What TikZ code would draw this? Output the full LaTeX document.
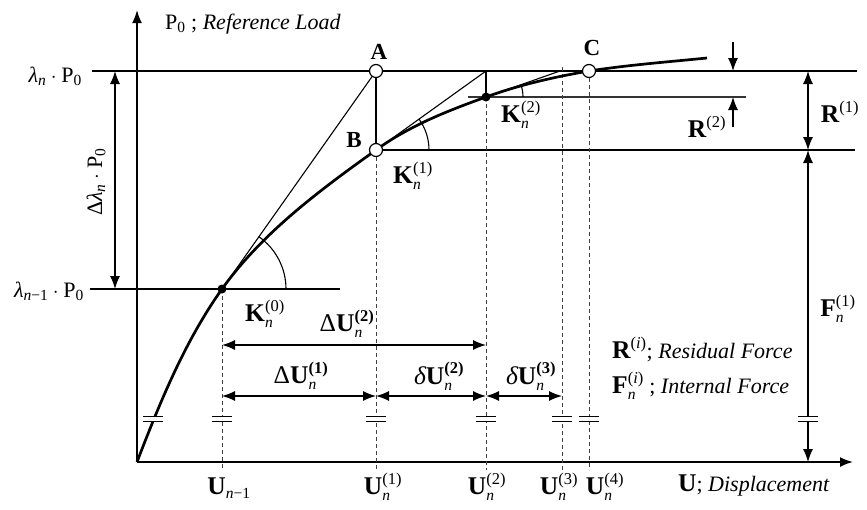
\documentclass[tikz,border=0pt]{standalone}
\usepackage{fontspec}
\setmainfont{Liberation Serif}
\usepackage{amsmath}
\usetikzlibrary{arrows.meta,calc}
\newcommand{\supt}[1]{\text{\fontsize{16.5}{16.5}\selectfont #1}}
\newcommand{\subt}[1]{\text{\fontsize{15.5}{15.5}\selectfont #1}}
\newcommand{\vsym}[3]{$\text{\bfseries #1}^{\supt{#3}}_{\subt{\itshape #2}}$}
\newcommand{\vsup}[2]{$\text{\bfseries #1}^{\supt{#2}}$}
\newcommand{\brkmark}[2]{%
  \fill[white] ({#1-10},{#2-2.6}) rectangle ({#1+10},{#2+2.6});
  \draw[line width=1.1pt] ({#1-10},{#2-2.6}) -- ({#1+10},{#2-2.6}) ({#1-10},{#2+2.6}) -- ({#1+10},{#2+2.6});}
\begin{document}
\begin{tikzpicture}[x=1pt,y=-1pt,
  axis/.style={line width=1.8pt,-{Latex[length=13pt,width=10pt]}},
  thinln/.style={line width=1.1pt},
  dline/.style={line width=0.9pt, dash pattern=on 4pt off 3pt, black!75},
  crv/.style={line width=2.7pt},
  dim/.style={line width=1.3pt, {Latex[length=13pt,width=10pt]}-{Latex[length=13pt,width=10pt]}},
  sarr/.style={line width=1.3pt, -{Latex[length=13pt,width=10pt]}},
  opn/.style={circle, draw, line width=1.2pt, fill=white, inner sep=0, minimum size=13pt},
  dotp/.style={circle, fill, inner sep=0, minimum size=9pt},
  txt/.style={font=\fontsize{22}{25}\selectfont, inner sep=0},
  sym/.style={font=\fontsize{25.5}{28}\selectfont, inner sep=0},
  abc/.style={font=\fontsize{23}{26}\selectfont\bfseries, inner sep=0}
]
\useasboundingbox (0,0) rectangle (867,509);
% key coordinates
\coordinate (O) at (137,462);
\coordinate (Ytop) at (137,10);
\coordinate (Xend) at (853,462);
\coordinate (TL) at (92,71);   \coordinate (TR) at (857,71);
\coordinate (LL) at (90,289);  \coordinate (LR) at (340,289);
\coordinate (BR) at (855,150);
\coordinate (K2L) at (468,97); \coordinate (K2R) at (746,97);
\coordinate (P0) at (222,289);
\coordinate (Ac) at (376,71);
\coordinate (Bc) at (376,150);
\coordinate (P2) at (486,97);
\coordinate (T2) at (486,71);
\coordinate (T3) at (560,71);
\coordinate (Cc) at (589,71);
\coordinate (Ce) at (707,58);
\coordinate (D0) at (222,470);
\coordinate (D1) at (376,470);
\coordinate (D2) at (486,470);
\coordinate (D3t) at (562,67); \coordinate (D3) at (562,470);
\coordinate (D4) at (589,470);
% axes
\draw[axis] (O) -- (Ytop);
\draw[axis] (O) -- (Xend);
% horizontal lines
\draw[thinln] (TL) -- (TR);
\draw[thinln] (LL) -- (LR);
\draw[thinln] (Bc) -- (BR);
\draw[thinln, black!80] (K2L) -- (K2R);
% dashed verticals
\draw[dline] (P0) -- (D0);
\draw[dline] (Bc) -- (D1);
\draw[dline] (P2) -- (D2);
\draw[dline] (D3t) -- (D3);
\draw[dline] (Cc) -- (D4);
% tangents
\draw[thinln] (P0) -- (Ac);
\draw[thinln] (Bc) -- (T2);
\draw[thinln] (P2) -- (T3);
\draw[line width=1.5pt] (Ac) -- (Bc);
\draw[line width=1.5pt] (T2) -- (P2);
% angle arcs
\draw[thinln] ($(P0)+(64,0)$) arc[start angle=0, end angle=-54.8, radius=64];
\draw[thinln] ($(Bc)+(53,0)$) arc[start angle=0, end angle=-35.7, radius=53];
\draw[thinln] ($(P2)+(37,0)$) arc[start angle=0, end angle=-19.4, radius=37];
% curve
\draw[crv] (O) .. controls (160,402) and (185,341) .. (P0)
  .. controls (262,233) and (320,190) .. (Bc)
  .. controls (409,126) and (447,111) .. (P2)
  .. controls (519,85) and (554,77) .. (Cc)
  .. controls (628,65) and (667,62) .. (Ce);
% dimension arrows
\coordinate (DLt) at (115,71); \coordinate (DLb) at (115,289);
\draw[dim] (DLt) -- (DLb);
\coordinate (U2a) at (222,345); \coordinate (U2b) at (486,345);
\draw[dim] (U2a) -- (U2b);
\coordinate (Ra) at (222,396); \coordinate (Rb) at (376,396); \coordinate (Rc) at (486,396); \coordinate (Rd) at (562,396);
\draw[dim] (Ra) -- (Rb);
\draw[dim] (Rb) -- (Rc);
\draw[dim] (Rc) -- (Rd);
\coordinate (Fx1) at (808,71); \coordinate (Fx2) at (808,150); \coordinate (Fx3) at (808,462);
\draw[dim] (Fx1) -- (Fx2);
\draw[dim] (Fx2) -- (Fx3);
\coordinate (R2a) at (733,42); \coordinate (R2b) at (733,71);
\coordinate (R2c) at (733,127); \coordinate (R2d) at (733,97);
\draw[sarr] (R2a) -- (R2b);
\draw[sarr] (R2c) -- (R2d);
% break marks
\brkmark{153}{419}
\brkmark{222}{419}
\brkmark{376}{419}
\brkmark{486}{419}
\brkmark{562}{419}
\brkmark{589}{419}
\brkmark{808}{419}
% points
\node[opn] (A) at (Ac) {};
\node[opn] (B) at (Bc) {};
\node[opn] (C) at (Cc) {};
\node[dotp] (p0) at (P0) {};
\node[dotp] (p2) at (P2) {};
% labels
\node[abc] (lA) at (379,52) {A};
\node[abc] (lB) at (354,140) {B};
\node[abc] (lC) at (592,48) {C};
\node[txt, anchor=west] (lP) at (165,24) {$\text{P}_{\subt{0}}$ ; \textit{Reference Load}};
\node[txt, anchor=east] (lln) at (82,76) {$\text{\itshape λ}_{\subt{\itshape n}}\cdot\text{P}_{\subt{0}}$};
\node[txt, anchor=east] (lln1) at (84,291) {$\text{\itshape λ}_{\subt{\itshape n\upshape −1}}\cdot\text{P}_{\subt{0}}$};
\node[txt, rotate=90] (ldl) at (96,182) {$\text{Δ\itshape λ}_{\subt{\itshape n}}\cdot\text{P}_{\subt{0}}$};
\node[sym] (lK1) at (413,176) {\vsym{K}{n}{(1)}};
\node[sym] (lK2) at (521,115) {\vsym{K}{n}{(2)}};
\node[sym] (lK0) at (265,314) {\vsym{K}{n}{(0)}};
\node[sym] (lDU2) at (347,324) {$\text{Δ\bfseries U}^{\supt{\bfseries(2)}}_{\subt{\itshape n}}$};
\node[sym] (lDU1) at (301,376) {$\text{Δ\bfseries U}^{\supt{\bfseries(1)}}_{\subt{\itshape n}}$};
\node[sym] (ldU2) at (439,376) {$\text{\itshape δ\upshape\bfseries U}^{\supt{\bfseries(2)}}_{\subt{\itshape n}}$};
\node[sym] (ldU3) at (531,376) {$\text{\itshape δ\upshape\bfseries U}^{\supt{\bfseries(3)}}_{\subt{\itshape n}}$};
\node[sym] (lR1) at (840,112) {\vsup{R}{(1)}};
\node[sym] (lR2) at (707,127) {\vsup{R}{(2)}};
\node[sym] (lF1) at (838,309) {\vsym{F}{n}{(1)}};
\node[sym, anchor=west] (lRi) at (612,349) {\vsup{R}{(\itshape i\upshape)}{\fontsize{22}{25}\selectfont ; \textit{Residual Force}}};
\node[sym, anchor=west] (lFi) at (612,386) {\vsym{F}{n}{(\itshape i\upshape)}{\fontsize{22}{25}\selectfont\ ; \textit{Internal Force}}};
\node[sym] (lUn1) at (229,488) {$\text{\bfseries U}_{\subt{\itshape n\upshape −1}}$};
\node[sym] (lU1) at (383,487) {\vsym{U}{n}{(1)}};
\node[sym] (lU2) at (487,487) {\vsym{U}{n}{(2)}};
\node[sym] (lU3) at (559,487) {\vsym{U}{n}{(3)}};
\node[sym] (lU4) at (605,487) {\vsym{U}{n}{(4)}};
\node[sym, anchor=west] (lUd) at (678,485) {\textbf{U}{\fontsize{22}{25}\selectfont ; \textit{Displacement}}};
\end{tikzpicture}
\end{document}
